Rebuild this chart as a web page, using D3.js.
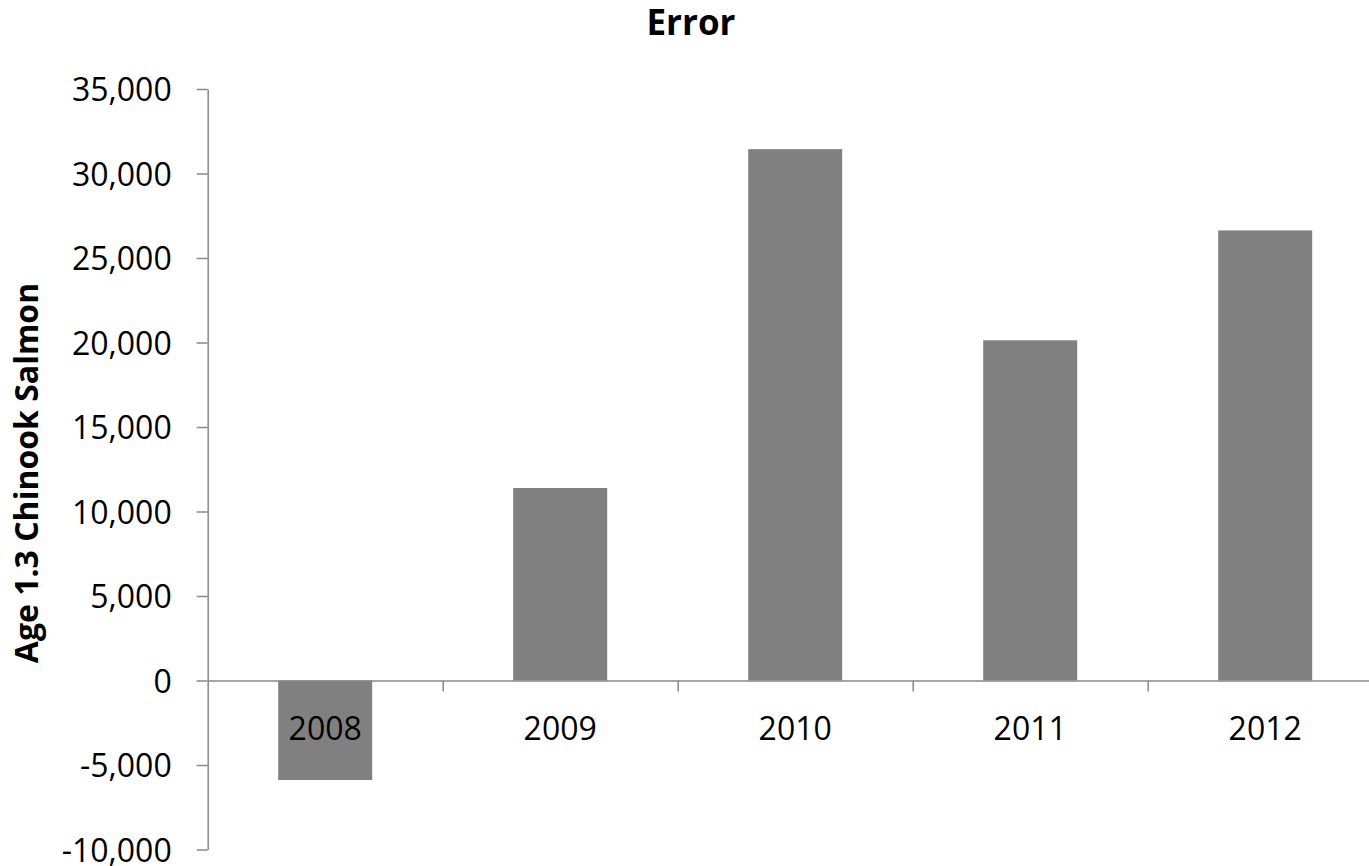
<!DOCTYPE html>
<meta charset="utf-8">
<style>
body { margin: 0; background: #fff; }
text { font-family: "Open Sans", sans-serif; fill: #000; }
.axis path, .axis line { stroke: #888; stroke-width: 1.5px; }
.bar { fill: #808080; }
</style>
<svg width="1369" height="866"></svg>
<script src="https://d3js.org/d3.v7.min.js"></script>
<script>
var years = ["2008", "2009", "2010", "2011", "2012"];
var errors = [-5890, 11390, 31440, 20130, 26630];
var yTicks = [-10000, -5000, 0, 5000, 10000, 15000, 20000, 25000, 30000, 35000];

var data = years.map(function(y, i) { return {year: y, value: errors[i]}; });

var svg = d3.select("svg"),
    plotLeft = 207.7, plotRight = 1382.7, plotTop = 89, plotBottom = 849.5;

var x = d3.scaleBand()
    .domain(years)
    .range([plotLeft, plotRight])
    .paddingInner(0.6)
    .paddingOuter(0.3);

var y = d3.scaleLinear()
    .domain([-10000, 35000])
    .range([plotBottom, plotTop]);

// category boundaries for the x ticks
var xb = d3.scaleLinear().domain([0, years.length]).range([plotLeft, plotRight]);

// plain hyphen for negatives, like the original
var fmt = d3.formatLocale({decimal: ".", thousands: ",", grouping: [3], currency: ["", ""], minus: "-"}).format(",");

svg.selectAll(".bar")
    .data(data)
  .enter().append("rect")
    .attr("class", "bar")
    .attr("x", function(d) { return x(d.year); })
    .attr("width", x.bandwidth())
    .attr("y", function(d) { return y(Math.max(0, d.value)); })
    .attr("height", function(d) { return Math.abs(y(d.value) - y(0)); });

svg.append("g")
    .attr("class", "axis axis--y")
    .attr("transform", "translate(" + plotLeft + ",0)")
    .call(d3.axisLeft(y)
      .tickValues(yTicks)
      .tickSize(11)
      .tickSizeOuter(0)
      .tickPadding(25)
      .tickFormat(fmt))
    .call(function(g) {
      g.selectAll("text").style("font-size", "32px").attr("dy", "0.36em");
    });

svg.append("g")
    .attr("class", "axis axis--x")
    .attr("transform", "translate(0," + y(0) + ")")
    .call(d3.axisBottom(xb)
      .tickValues(d3.range(1, years.length + 1))
      .tickSize(11)
      .tickSizeOuter(0)
      .tickFormat(""));

svg.append("g")
  .selectAll("text")
    .data(years)
  .enter().append("text")
    .attr("x", function(d) { return x(d) + x.bandwidth() / 2; })
    .attr("y", y(0) + 59)
    .attr("text-anchor", "middle")
    .style("font-size", "32px")
    .text(function(d) { return d; });

svg.append("text")
    .attr("x", 691)
    .attr("y", 35)
    .attr("text-anchor", "middle")
    .style("font-size", "35px")
    .style("font-weight", "bold")
    .text("Error");

svg.append("text")
    .attr("transform", "translate(38,473) rotate(-90)")
    .attr("text-anchor", "middle")
    .style("font-size", "32px")
    .style("font-weight", "bold")
    .text("Age 1.3 Chinook Salmon");
</script>
